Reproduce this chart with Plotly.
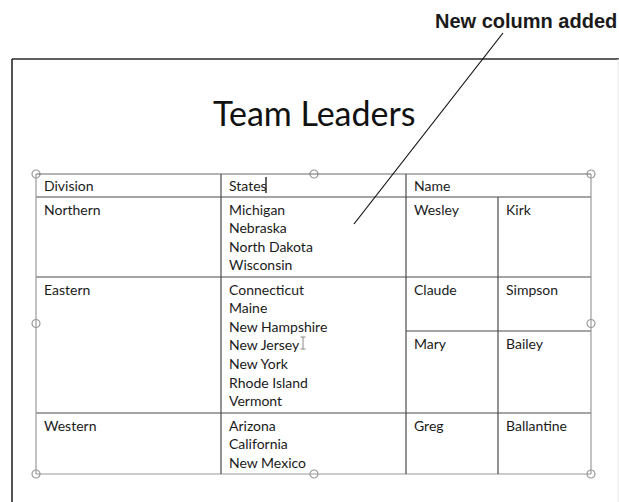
import plotly.graph_objects as go

# ---------------- data ----------------
title_text = "Team Leaders"
callout_text = "New column added"
headers = ["Division", "States", "Name"]
divisions = ["Northern", "Eastern", "Western"]
states = [
    ["Michigan", "Nebraska", "North Dakota", "Wisconsin"],
    ["Connecticut", "Maine", "New Hampshire", "New Jersey", "New York", "Rhode Island", "Vermont"],
    ["Arizona", "California", "New Mexico"],
]
first_names = [["Wesley"], ["Claude", "Mary"], ["Greg"]]
last_names = [["Kirk"], ["Simpson", "Bailey"], ["Ballantine"]]

# ---------------- layout constants (pixels) ----------------
W, H = 619, 502
col_x = [36, 221, 406, 498, 591]
table_top = 174
header_bottom = 197
row_bottoms = [277, 413, 474]
sub_row_split = {1: 331}          # Eastern row split in name columns
text_pad_x = 7
text_first_off = 12
line_h = 18.6
FONT = "Lato, 'Noto Sans', sans-serif"
TXT = "#1a1a1a"
INNER = "#4a4a4a"
OUTER = "#9a9a9a"

fig = go.Figure()
shapes = []
annotations = []

def hline(y, x0, x1, color=INNER, w=1.2):
    shapes.append(dict(type="line", x0=x0, x1=x1, y0=y, y1=y, line=dict(color=color, width=w)))

def vline(x, y0, y1, color=INNER, w=1.2):
    shapes.append(dict(type="line", x0=x, x1=x, y0=y0, y1=y1, line=dict(color=color, width=w)))

def txt(x, y, s, size=14, color=TXT, anchor="left", family=FONT):
    annotations.append(dict(x=x, y=y, text=s, showarrow=False, xanchor=anchor, yanchor="middle",
                            font=dict(family=family, size=size, color=color), borderpad=0))

# page border
hline(59, 12, 619, color="#2a2a2a", w=1.6)
vline(12, 59, 502, color="#2a2a2a", w=1.6)
vline(618, 59, 502, color="#e8e8e8", w=1)

# table grid
hline(table_top, col_x[0], col_x[-1], color="#6a6a6a")
hline(header_bottom, col_x[0], col_x[-1])
for i, yb in enumerate(row_bottoms[:-1]):
    hline(yb, col_x[0], col_x[-1])
for i, ys in sub_row_split.items():
    hline(ys, col_x[2], col_x[4])
hline(row_bottoms[-1], col_x[0], col_x[-1], color=OUTER)
vline(col_x[0], table_top, row_bottoms[-1], color=OUTER)
vline(col_x[-1], table_top, row_bottoms[-1], color=OUTER)
vline(col_x[1], table_top, row_bottoms[-1])
vline(col_x[2], table_top, row_bottoms[-1])
vline(col_x[3], header_bottom, row_bottoms[-1])

# header texts
header_cols = [0, 1, 2]
for h, c in zip(headers, header_cols):
    txt(col_x[c] + text_pad_x, table_top + 11, h)

# body rows
row_tops = [header_bottom] + row_bottoms[:-1]
for r, div in enumerate(divisions):
    top = row_tops[r]
    txt(col_x[0] + text_pad_x, top + text_first_off, div)
    for k, s in enumerate(states[r]):
        txt(col_x[1] + text_pad_x, top + text_first_off + k * line_h, s)
    sub_tops = [top] + ([sub_row_split[r]] if r in sub_row_split else [])
    for j, (fn, ln) in enumerate(zip(first_names[r], last_names[r])):
        st = sub_tops[j]
        txt(col_x[2] + text_pad_x, st + text_first_off, fn)
        txt(col_x[3] + text_pad_x, st + text_first_off, ln)

# text cursor after "States"
vline(266, 177, 193, color="#111111", w=1.3)
# I-beam mouse pointer
vline(303, 337, 349, color="#8a8a8a", w=1)
hline(337, 300.5, 305.5, color="#8a8a8a", w=1)
hline(349, 300.5, 305.5, color="#8a8a8a", w=1)

# table selection handles
hx = [col_x[0], (col_x[0] + col_x[-1]) / 2 + 0.5, col_x[-1]]
hy = [table_top, (table_top + row_bottoms[-1]) / 2 - 0.5, row_bottoms[-1]]
handle_pts = [(x, y) for y in hy for x in hx if not (x == hx[1] and y == hy[1])]
fig.add_trace(go.Scatter(
    x=[p[0] for p in handle_pts], y=[p[1] for p in handle_pts], mode="markers",
    marker=dict(symbol="circle", size=8, color="white", line=dict(color="#9a9a9a", width=1.2)),
    hoverinfo="skip", showlegend=False, cliponaxis=False))

# title
txt(314, 112, title_text, size=34, anchor="center", color="#111111")

# callout
txt(618, 21, "<b>" + callout_text + "</b>", size=20, anchor="right", color="#1a1a1a",
    family="'Liberation Sans Narrow', 'Arial Narrow', sans-serif")
shapes.append(dict(type="line", x0=503, y0=33, x1=354, y1=224, line=dict(color="#111111", width=1.2)))

fig.update_layout(
    width=W, height=H, margin=dict(l=0, r=0, t=0, b=0),
    paper_bgcolor="white", plot_bgcolor="white",
    xaxis=dict(range=[0, W], visible=False, fixedrange=True),
    yaxis=dict(range=[H, 0], visible=False, fixedrange=True),
    shapes=shapes, annotations=annotations, showlegend=False,
)
fig.write_html(
    "out.html",
    config={"displayModeBar": False},
    post_script="document.body.style.margin='0';document.body.style.overflow='hidden';"
                "document.documentElement.style.overflow='hidden';",
)
